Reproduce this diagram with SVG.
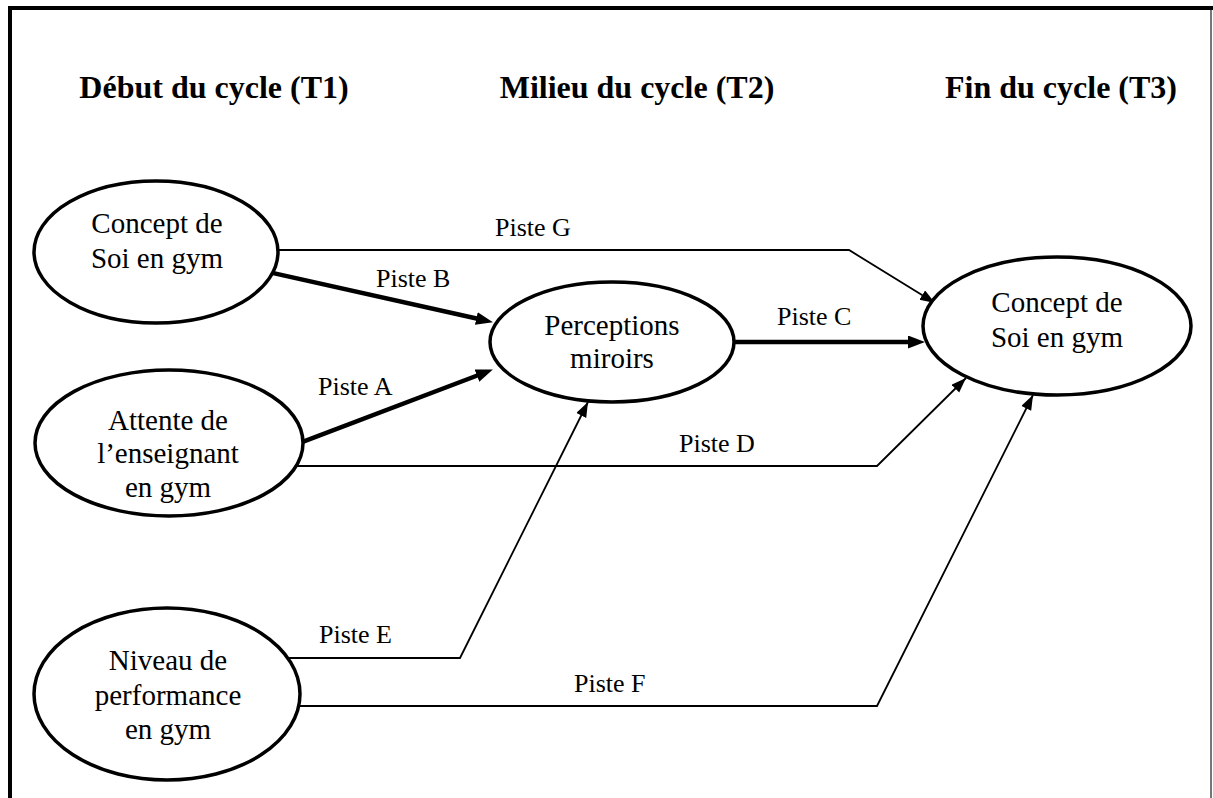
<svg xmlns="http://www.w3.org/2000/svg" width="1213" height="798" viewBox="0 0 1213 798" font-family="Liberation Serif, Times New Roman, DejaVu Serif, serif">
<defs>
<style>
.node ellipse{fill:#fff;stroke:#000;stroke-width:3.5}
.nt{font-size:29px;text-anchor:middle;fill:#000}
.hd{font-size:32px;font-weight:bold;text-anchor:middle;fill:#000}
.lb{font-size:26px;fill:#000}
.thin{fill:none;stroke:#000;stroke-width:1.8;marker-end:url(#ah)}
.thick{fill:none;stroke:#000;stroke-width:4.5;marker-end:url(#ahb)}
</style>
<marker id="ah" markerUnits="userSpaceOnUse" markerWidth="16" markerHeight="12" refX="15" refY="5.5" orient="auto"><path d="M0,0 L15,5.5 L0,11 z" fill="#000"/></marker>
<marker id="ahb" markerUnits="userSpaceOnUse" markerWidth="18" markerHeight="14" refX="6" refY="6.5" orient="auto"><path d="M0,0 L17,6.5 L0,13 z" fill="#000"/></marker>
</defs>
<rect width="1213" height="798" fill="#fff"/>
<g id="frame">
<line x1="8" y1="8" x2="1213" y2="8" stroke="#000" stroke-width="4"/>
<line x1="10" y1="6" x2="10" y2="798" stroke="#000" stroke-width="4"/>
<line x1="1211" y1="10" x2="1211" y2="798" stroke="#777" stroke-width="2"/>
</g>
<g id="headers">
<text class="hd" x="214" y="98">Début du cycle (T1)</text>
<text class="hd" x="637" y="98">Milieu du cycle (T2)</text>
<text class="hd" x="1061" y="98">Fin du cycle (T3)</text>
</g>
<g id="connectors">
<path class="thin" d="M270,250 L849,250 L935,303"/>
<path class="thick" d="M270,272.4 L482.2,319.8"/>
<path class="thick" d="M296,444.3 L482.6,373.5"/>
<path class="thick" d="M730,342 L914,342"/>
<path class="thin" d="M290,466 L877,466 L966,378"/>
<path class="thin" d="M280,658 L460,658 L588,402"/>
<path class="thin" d="M295,706 L877,706 L1033,395"/>
<text class="lb" x="495" y="236">Piste G</text>
<text class="lb" x="376" y="287">Piste B</text>
<text class="lb" x="318" y="395">Piste A</text>
<text class="lb" x="777" y="325">Piste C</text>
<text class="lb" x="679" y="452">Piste D</text>
<text class="lb" x="319" y="643">Piste E</text>
<text class="lb" x="574" y="692">Piste F</text>
</g>
<g id="n-concept-t1" class="node">
<ellipse cx="156" cy="252" rx="122" ry="71"/>
<text class="nt" x="157" y="233">Concept de</text>
<text class="nt" x="157" y="268">Soi en gym</text>
</g>
<g id="n-attente" class="node">
<ellipse cx="169" cy="443" rx="134" ry="73"/>
<text class="nt" x="168" y="430">Attente de</text>
<text class="nt" x="168" y="463">l’enseignant</text>
<text class="nt" x="168" y="497">en gym</text>
</g>
<g id="n-niveau" class="node">
<ellipse cx="167" cy="694" rx="133" ry="86"/>
<text class="nt" x="168" y="670">Niveau de</text>
<text class="nt" x="168" y="705">performance</text>
<text class="nt" x="168" y="739">en gym</text>
</g>
<g id="n-perceptions" class="node">
<ellipse cx="612" cy="342" rx="122" ry="60"/>
<text class="nt" x="612" y="335">Perceptions</text>
<text class="nt" x="612" y="368">miroirs</text>
</g>
<g id="n-concept-t3" class="node">
<ellipse cx="1057" cy="326" rx="134" ry="69"/>
<text class="nt" x="1057" y="312">Concept de</text>
<text class="nt" x="1057" y="347">Soi en gym</text>
</g>
</svg>
